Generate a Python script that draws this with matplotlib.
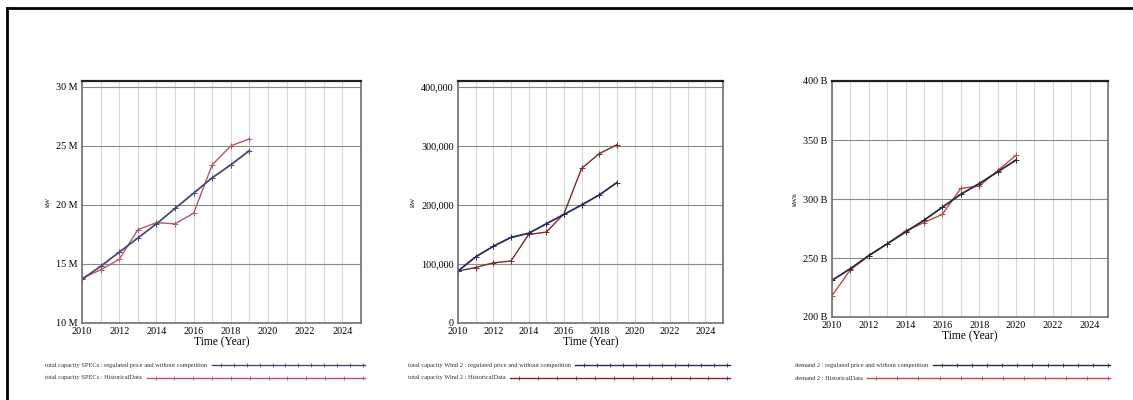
import numpy as np
import matplotlib
matplotlib.use('Agg')
import matplotlib.pyplot as plt
from matplotlib.lines import Line2D
from matplotlib.ticker import FuncFormatter

plt.rcParams['font.family'] = ['Liberation Serif', 'DejaVu Serif']

# values
years_a = [2010, 2011, 2012, 2013, 2014, 2015, 2016, 2017, 2018, 2019]
years_c = [2010, 2011, 2012, 2013, 2014, 2015, 2016, 2017, 2018, 2019, 2020]

# total capacity SPECs (kW)
spec_sim = [13.7e6, 14.8e6, 16.0e6, 17.2e6, 18.4e6, 19.7e6, 21.0e6, 22.3e6, 23.4e6, 24.6e6]
spec_hist = [13.8e6, 14.5e6, 15.4e6, 17.9e6, 18.5e6, 18.4e6, 19.3e6, 23.4e6, 25.0e6, 25.6e6]

# total capacity Wind 2 (kW)
wind_sim = [88e3, 112e3, 130e3, 145e3, 152e3, 168e3, 184e3, 200e3, 217e3, 238e3]
wind_hist = [88e3, 94e3, 102e3, 105e3, 150e3, 154e3, 185e3, 262e3, 287e3, 302e3]

# demand 2
dem_sim = [231e9, 241e9, 252e9, 262e9, 272e9, 282e9, 293e9, 304e9, 313e9, 323e9, 333e9]
dem_hist = [218e9, 240e9, 252e9, 262e9, 273e9, 280e9, 287e9, 309e9, 311e9, 324e9, 337e9]

panels = [
    dict(x=years_a, sim=spec_sim, hist=spec_hist, ylim=(10e6, 30.5e6),
         ticks=[10e6, 15e6, 20e6, 25e6, 30e6], fmt=lambda v, p: '%d M' % round(v / 1e6),
         ylabel='kW', name='total capacity SPECs',
         pos=[0.0724, 0.1925, 0.2462, 0.605], leg=(0.040, 0.322),
         colors=('#4a4a78', '#b05a6a')),
    dict(x=years_a, sim=wind_sim, hist=wind_hist, ylim=(0, 410e3),
         ticks=[0, 100e3, 200e3, 300e3, 400e3], fmt=lambda v, p: '{:,.0f}'.format(v),
         ylabel='kW', name='total capacity Wind 2',
         pos=[0.4042, 0.1925, 0.2339, 0.605], leg=(0.360, 0.644),
         colors=('#2a2a60', '#7a2a2a')),
    dict(x=years_c, sim=dem_sim, hist=dem_hist, ylim=(200e9, 400e9),
         ticks=[200e9, 250e9, 300e9, 350e9, 400e9], fmt=lambda v, p: '%d B' % round(v / 1e9),
         ylabel='kWh', name='demand 2',
         pos=[0.7343, 0.2075, 0.2436, 0.59], leg=(0.7017, 0.98),
         colors=('#2a2a40', '#c04a4a')),
]

fig = plt.figure(figsize=(11.33, 4.0), dpi=100)

# outer frame (left and top only)
fig.add_artist(Line2D([0.0062, 0.0062], [0, 0.98], transform=fig.transFigure, color='black', lw=2))
fig.add_artist(Line2D([0.0062, 1.0], [0.98, 0.98], transform=fig.transFigure, color='black', lw=2))

legend_rows = []
for p in panels:
    ax = fig.add_axes(p['pos'])
    c_sim, c_hist = p['colors']
    ax.plot(p['x'], p['hist'], color=c_hist, lw=1.0, marker='+', ms=4, mew=0.7)
    ax.plot(p['x'], p['sim'], color=c_sim, lw=1.3, marker='+', ms=4, mew=0.7)
    ax.set_xlim(2010, 2025)
    ax.set_ylim(*p['ylim'])
    ax.set_xticks(range(2010, 2025, 2))
    ax.set_xticks(range(2010, 2026), minor=True)
    ax.set_yticks(p['ticks'])
    ax.yaxis.set_major_formatter(FuncFormatter(p['fmt']))
    ax.grid(axis='x', which='both', color='#d8d8d8', lw=0.8)
    ax.grid(axis='y', which='major', color='#8a8a8a', lw=0.8)
    ax.tick_params(which='both', length=0, labelsize=7.3, pad=3)
    ax.set_xlabel('Time (Year)', fontsize=8.3, labelpad=0)
    ax.set_ylabel(p['ylabel'], fontsize=5, labelpad=4)
    for s in ['left', 'bottom', 'right']:
        ax.spines[s].set_color('#707070')
        ax.spines[s].set_linewidth(1.2)
    ax.spines['top'].set_color('#202020')
    ax.spines['top'].set_linewidth(1.6)

    x0, x1 = p['leg']
    labels = [p['name'] + ' : regulated price and without competition',
              p['name'] + ' : HistoricalData']
    for k, (lab, col) in enumerate(zip(labels, (c_sim, c_hist))):
        y = 0.0875 - k * 0.0325
        t = fig.text(x0, y, lab, fontsize=4.6, color='#303030', va='center', ha='left')
        legend_rows.append((t, x1, y, col))

fig.canvas.draw()
r = fig.canvas.get_renderer()
for t, x1, y, col in legend_rows:
    bb = t.get_window_extent(renderer=r).transformed(fig.transFigure.inverted())
    xs = bb.x1 + 0.004
    fig.add_artist(Line2D([xs, x1], [y, y], transform=fig.transFigure, color=col, lw=1.0))
    mx = np.linspace(xs + 0.008, x1 - 0.002, 12)
    fig.add_artist(Line2D(mx, [y] * len(mx), transform=fig.transFigure, color=col, lw=0,
                          marker='|', ms=3, mew=0.6))

fig.savefig('out.png', dpi=100, facecolor='white')
